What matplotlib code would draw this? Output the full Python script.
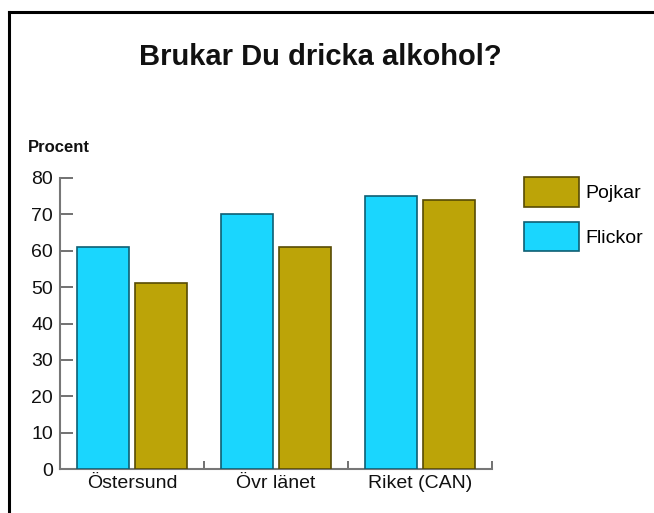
import matplotlib
matplotlib.use("Agg")
import matplotlib.pyplot as plt
from matplotlib.patches import Patch
from matplotlib.lines import Line2D
import numpy as np

plt.rcParams['font.family'] = ['Liberation Sans', 'DejaVu Sans']

categories = ["Östersund", "Övr länet", "Riket (CAN)"]
flickor = [61, 70, 75]
pojkar = [51, 61, 74]
yticks = [0, 10, 20, 30, 40, 50, 60, 70, 80]

W, H = 654, 513
fig = plt.figure(figsize=(W / 100, H / 100), dpi=100)
ax = fig.add_axes([60 / W, 1 - 469 / H, (492 - 60) / W, (469 - 178) / H])

c_cyan = "#1AD6FE"
c_olive = "#BCA408"
x = np.arange(len(categories))
bw = 0.365
ax.bar(x - 0.2, flickor, bw, color=c_cyan, edgecolor="#0E5F73", linewidth=1.2, zorder=3)
ax.bar(x + 0.2, pojkar, bw, color=c_olive, edgecolor="#574B05", linewidth=1.2, zorder=3)

lab_fs = 14
ax.set_xlim(-0.5, 2.5)
ax.set_ylim(0, 80)
ax.set_yticks(yticks)
ax.set_xticks(x)
ax.set_xticklabels(categories)
ax.set_xticks([0.5, 1.5, 2.5], minor=True)
ax.tick_params(axis='x', which='major', length=0, labelsize=lab_fs, pad=4, colors='#111111')
ax.tick_params(axis='x', which='minor', direction='in', length=6, width=1.3, color='#666666')
ax.tick_params(axis='y', direction='in', length=9, width=1.3, color='#666666', labelsize=lab_fs,
               pad=5, labelcolor='#111111')
for s in ['top', 'right']:
    ax.spines[s].set_visible(False)
for s in ['left', 'bottom']:
    ax.spines[s].set_color('#777777')
    ax.spines[s].set_linewidth(1.5)

fig.text(320 / W, 1 - 57 / H, "Brukar Du dricka alkohol?", ha='center', va='center',
         fontsize=21, fontweight='bold', color='#111111')
fig.text(28 / W, 1 - 148 / H, "Procent", ha='left', va='center',
         fontsize=12, fontweight='bold', color='#111111')

handles = [Patch(facecolor=c_olive, edgecolor="#574B05", linewidth=1.2, label="Pojkar"),
           Patch(facecolor=c_cyan, edgecolor="#0E5F73", linewidth=1.2, label="Flickor")]
fs = lab_fs * 100 / 72
fig.legend(handles=handles, loc='upper left', bbox_to_anchor=(524 / W, 1 - 177 / H),
           frameon=False, borderpad=0, borderaxespad=0, fontsize=lab_fs,
           handlelength=55 / fs, handleheight=29 * (29 / 22) / (12.5 * 100 / 72) * (12.5 / lab_fs),
           labelspacing=15 / fs, handletextpad=6 / fs)

fig.add_artist(Line2D([9 / W, 9 / W], [0, 1 - 12 / H], color='black', linewidth=2.2,
                      transform=fig.transFigure))
fig.add_artist(Line2D([9 / W, 1], [1 - 12 / H, 1 - 12 / H], color='black', linewidth=2.2,
                      transform=fig.transFigure))

fig.savefig("out.png", dpi=100, facecolor='white')
